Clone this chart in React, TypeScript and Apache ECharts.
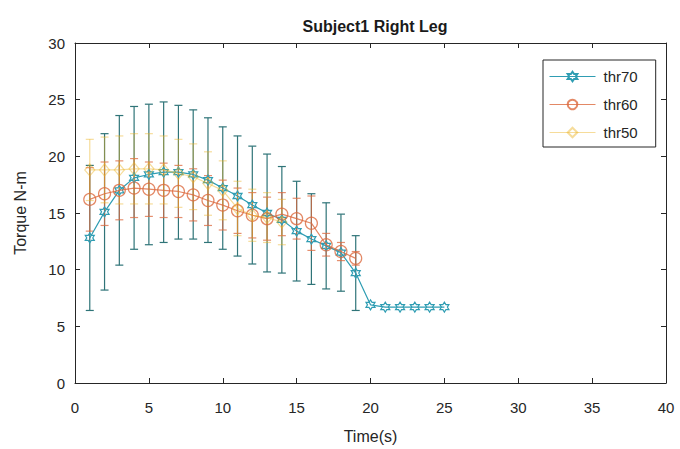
import React, { useEffect, useRef } from "react";
import * as echarts from "echarts";

const xTicks = [0, 5, 10, 15, 20, 25, 30, 35, 40];
const yTicks = [0, 5, 10, 15, 20, 25, 30];

const thr70X = [1, 2, 3, 4, 5, 6, 7, 8, 9, 10, 11, 12, 13, 14, 15, 16, 17, 18, 19, 20, 21, 22, 23, 24, 25];
const thr70Mean = [12.8, 15.1, 17.0, 18.1, 18.4, 18.6, 18.6, 18.4, 17.9, 17.2, 16.5, 15.7, 15.0, 14.4, 13.4, 12.7, 12.1, 11.5, 9.7, 6.9, 6.7, 6.7, 6.7, 6.7, 6.7];
const thr70Err = [6.4, 6.9, 6.6, 6.3, 6.2, 6.2, 5.9, 5.7, 5.5, 5.4, 5.3, 5.2, 5.2, 4.7, 4.4, 4.0, 3.8, 3.4, 3.3, 0, 0, 0, 0, 0, 0];

const thr60X = [1, 2, 3, 4, 5, 6, 7, 8, 9, 10, 11, 12, 13, 14, 15, 16, 17, 18, 19];
const thr60Mean = [16.2, 16.7, 17.0, 17.2, 17.1, 17.0, 16.9, 16.6, 16.1, 15.7, 15.2, 14.8, 14.5, 14.9, 14.5, 14.1, 12.2, 11.6, 11.0];
const thr60Err = [2.8, 2.8, 2.6, 2.6, 2.4, 2.4, 2.3, 2.3, 2.2, 2.2, 2.0, 2.0, 1.9, 1.9, 1.8, 2.4, 1.0, 0.8, 0.6];

const thr50X = [1, 2, 3, 4, 5, 6, 7, 8, 9, 10, 11, 12, 13, 14];
const thr50Mean = [18.8, 18.8, 18.8, 18.9, 18.9, 18.8, 18.5, 18.2, 17.6, 17.0, 15.4, 14.8, 14.6, 14.2];
const thr50Err = [2.7, 2.9, 3.0, 3.1, 3.1, 3.0, 3.0, 2.9, 2.8, 2.6, 2.4, 2.3, 2.2, 2.0];

const HEXAGRAM =
  "path://M10,0 L12.89,5 L18.66,5 L15.77,10 L18.66,15 L12.89,15 L10,20 L7.11,15 L1.34,15 L4.23,10 L1.34,5 L7.11,5 Z";

const FONT = "'Liberation Sans', Arial, sans-serif";
const AXIS_COLOR = "#262626";

function errData(xs: number[], mean: number[], err: number[]) {
  const out: number[][] = [];
  xs.forEach((x, i) => {
    if (err[i] > 0) out.push([x, mean[i] - err[i], mean[i] + err[i]]);
  });
  return out;
}

function errSeries(name: string, data: number[][], color: string, opacity: number) {
  return {
    name,
    type: "custom",
    xAxisIndex: 0,
    yAxisIndex: 0,
    encode: { x: 0, y: [1, 2] },
    data,
    z: 2,
    renderItem: (_params: any, api: any) => {
      const x = api.value(0);
      const lo = api.value(1);
      const hi = api.value(2);
      const p1 = api.coord([x, hi]);
      const p2 = api.coord([x, lo]);
      const w = 4;
      const style = { stroke: color, lineWidth: 1.2, opacity };
      return {
        type: "group",
        children: [
          { type: "line", shape: { x1: p1[0], y1: p1[1], x2: p2[0], y2: p2[1] }, style },
          { type: "line", shape: { x1: p1[0] - w, y1: p1[1], x2: p1[0] + w, y2: p1[1] }, style },
          { type: "line", shape: { x1: p2[0] - w, y1: p2[1], x2: p2[0] + w, y2: p2[1] }, style },
        ],
      };
    },
  };
}

function lineSeries(name: string, xs: number[], mean: number[], color: string, symbol: string, size: any, opacity: number, z: number) {
  return {
    name,
    type: "line",
    xAxisIndex: 0,
    yAxisIndex: 0,
    data: xs.map((x, i) => [x, mean[i]]),
    symbol,
    symbolSize: size,
    showAllSymbol: true,
    z,
    lineStyle: { color, width: 1.2, opacity },
    itemStyle: { color: "rgba(255,255,255,0)", borderColor: color, borderWidth: 1.2, opacity },
  };
}

export default function App() {
  const ref = useRef<HTMLDivElement>(null);
  useEffect(() => {
    if (!ref.current) return;
    const chart = echarts.init(ref.current, undefined, { renderer: "svg" });
    const axisCommon = {
      type: "value" as const,
      axisLine: { show: true, onZero: false, lineStyle: { color: AXIS_COLOR, width: 1 } },
      axisTick: { show: true, inside: true, length: 5, lineStyle: { color: AXIS_COLOR } },
      splitLine: { show: false },
    };
    const c70 = "#2f9db3";
    const c70bar = "#2f7478";
    const c60 = "#dc6a3f";
    const c50 = "#eab21e";
    chart.setOption({
      animation: false,
      backgroundColor: "#ffffff",
      title: {
        text: "Subject1 Right Leg",
        left: 370,
        textAlign: "center",
        top: 13,
        textStyle: { fontFamily: FONT, fontSize: 16, fontWeight: "bold", color: "#1a1a1a" },
      },
      grid: { left: 75, right: 14, top: 43, bottom: 66, containLabel: false },
      legend: {
        data: ["thr70", "thr60", "thr50"],
        orient: "vertical",
        left: 543,
        top: 60,
        backgroundColor: "#ffffff",
        borderColor: AXIS_COLOR,
        borderWidth: 1,
        borderRadius: 0,
        padding: [9, 18, 7, 6],
        itemWidth: 46,
        itemHeight: 12,
        itemGap: 13,
        lineStyle: { width: 1 },
        textStyle: { fontFamily: FONT, fontSize: 15, color: AXIS_COLOR, padding: [0, 0, 0, 3] },
      },
      xAxis: [
        {
          ...axisCommon,
          position: "bottom",
          min: 0,
          max: 40,
          interval: 5,
          name: "Time(s)",
          nameLocation: "middle",
          nameGap: 45,
          nameTextStyle: { fontFamily: FONT, fontSize: 16, color: AXIS_COLOR },
          axisLabel: { fontFamily: FONT, fontSize: 15, color: AXIS_COLOR, margin: 17, formatter: (v: number) => (xTicks.includes(v) ? String(v) : "") },
        },
        {
          ...axisCommon,
          position: "top",
          min: 0,
          max: 40,
          interval: 5,
          axisLabel: { show: false },
        },
      ],
      yAxis: [
        {
          ...axisCommon,
          position: "left",
          min: 0,
          max: 30,
          interval: 5,
          name: "Torque N-m",
          nameLocation: "middle",
          nameGap: 47,
          nameRotate: 90,
          nameTextStyle: { fontFamily: FONT, fontSize: 16, color: AXIS_COLOR },
          axisLabel: { fontFamily: FONT, fontSize: 15, color: AXIS_COLOR, margin: 10, formatter: (v: number) => (yTicks.includes(v) ? String(v) : "") },
        },
        {
          ...axisCommon,
          position: "right",
          min: 0,
          max: 30,
          interval: 5,
          axisLabel: { show: false },
        },
      ],
      series: [
        errSeries("thr70 err", errData(thr70X, thr70Mean, thr70Err), c70bar, 1),
        lineSeries("thr70", thr70X, thr70Mean, c70, HEXAGRAM, [9, 10], 1, 3),
        errSeries("thr60 err", errData(thr60X, thr60Mean, thr60Err), c60, 0.75),
        lineSeries("thr60", thr60X, thr60Mean, c60, "circle", 12, 0.8, 4),
        errSeries("thr50 err", errData(thr50X, thr50Mean, thr50Err), c50, 0.45),
        lineSeries("thr50", thr50X, thr50Mean, c50, "diamond", [10, 12], 0.45, 5),
      ],
    });
    return () => chart.dispose();
  }, []);
  return <div ref={ref} style={{ position: "fixed", left: 0, top: 0, width: 680, height: 449 }} />;
}
